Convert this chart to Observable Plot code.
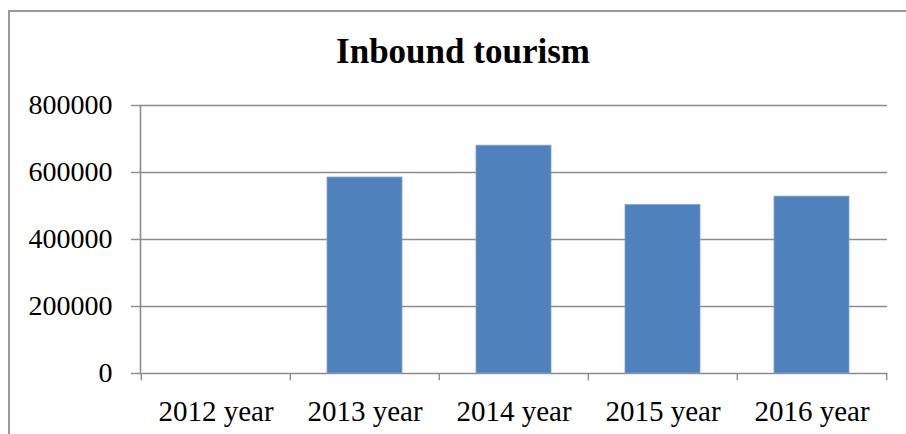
<!DOCTYPE html>
<html>
<head>
<meta charset="utf-8">
<script src="https://cdn.jsdelivr.net/npm/d3@7"></script>
<script src="https://cdn.jsdelivr.net/npm/@observablehq/plot@0.6"></script>
<style>
  html, body { margin: 0; padding: 0; background: #fff; overflow: hidden; }
  #wrap { position: relative; width: 906px; height: 434px; overflow: hidden; }
  #border { position: absolute; left: 8px; top: 10px; width: 1000px; height: 600px;
            border: 2px solid #999; box-sizing: border-box; }
  #title { position: absolute; left: 0; width: 926px; top: 30px; text-align: center;
           font-family: "Liberation Serif", "Times New Roman", serif; font-weight: bold;
           font-size: 35px; line-height: 44px; color: #000; }
  #chart { position: absolute; left: 0; top: 0; }
</style>
</head>
<body>
<div id="wrap">
  <div id="border"></div>
  <div id="title">Inbound tourism</div>
  <div id="chart"></div>
</div>
<script>
const categories = ["2012 year", "2013 year", "2014 year", "2015 year", "2016 year"];
const values = [0, 585000, 680000, 503000, 528000];
const yTicks = [0, 200000, 400000, 600000, 800000];

const data = categories.map((c, i) => ({category: c, value: values[i]}));
const gray = "#8c8c8c";
const step = (887 - 140) / categories.length;

const plot = Plot.plot({
  width: 906,
  height: 434,
  marginLeft: 140,
  marginRight: 19,
  marginTop: 105,
  marginBottom: 61,
  style: {fontFamily: "'Liberation Serif', 'Times New Roman', serif", fontSize: "28px", color: "#000", background: "transparent", overflow: "visible"},
  x: {domain: categories, paddingInner: 0.5, paddingOuter: 0.25, label: null},
  y: {domain: [0, 800000], label: null},
  marks: [
    Plot.ruleY(yTicks, {stroke: gray, strokeWidth: 1.4, strokeOpacity: 1}),
    Plot.barY(data.filter(d => d.value > 0), {x: "category", y: "value", fill: "#4F81BD", stroke: "#7fa3d3", strokeWidth: 0.8}),
    Plot.frame({anchor: "left", stroke: gray, strokeWidth: 1.6}),
    Plot.ruleX(categories, {x: d => d, y1: 0, y2: -22000, dx: -step / 2, stroke: gray, strokeWidth: 1.4}),
    Plot.ruleX(categories.slice(-1), {x: d => d, y1: 0, y2: -22000, dx: step / 2, stroke: gray, strokeWidth: 1.4}),
    Plot.axisY({ticks: yTicks, tickFormat: d => String(d), tickSize: 9, tickPadding: 19, stroke: gray, strokeWidth: 1.4, strokeOpacity: 1, fill: "#000", fontSize: 28, label: null}),
    Plot.axisX({tickSize: 0, tickPadding: 27, fill: "#000", fontSize: 29, label: null})
  ]
});
document.getElementById("chart").appendChild(plot);
</script>
</body>
</html>
